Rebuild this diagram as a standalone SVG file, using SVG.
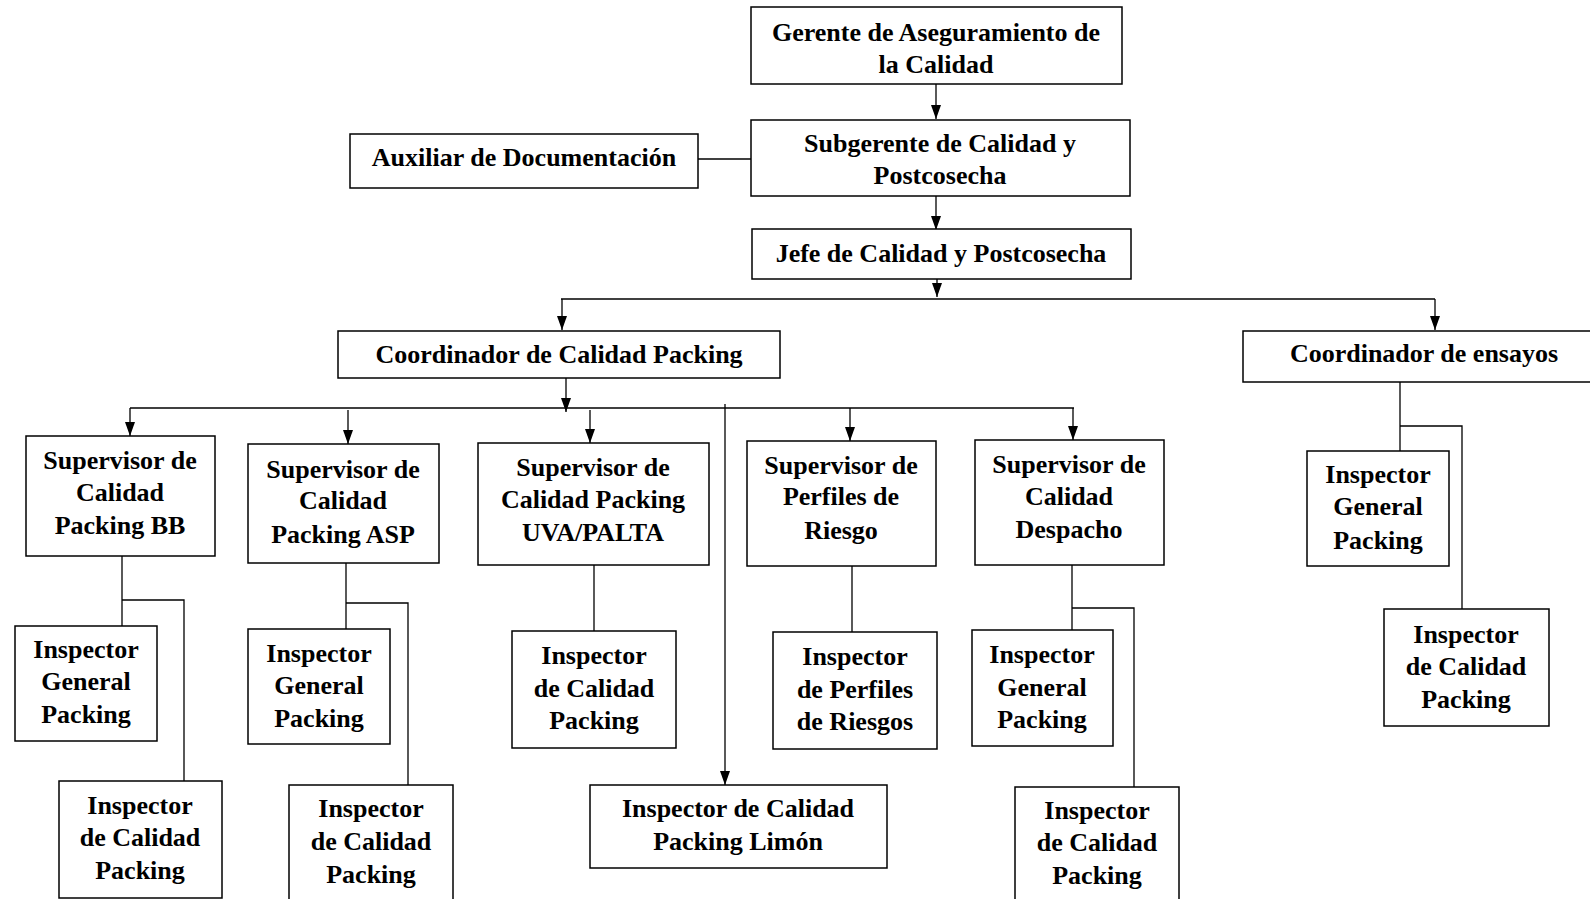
<svg xmlns="http://www.w3.org/2000/svg" width="1590" height="899" viewBox="0 0 1590 899">
<style>
.box{fill:#fff;stroke:#000;stroke-width:1.5}
.t{font-family:"Liberation Serif","Times New Roman",serif;font-weight:bold;font-size:26px;fill:#000;text-anchor:middle}
.c{fill:none;stroke:#000;stroke-width:1.3}
</style>
<defs>
<marker id="ah" markerUnits="userSpaceOnUse" markerWidth="12" markerHeight="16" refX="6" refY="15" orient="auto-start-reverse" viewBox="0 0 12 16">
<path d="M1,1 L11,1 L6,15 Z" fill="#000" transform="rotate(0)"/>
</marker>
<marker id="arr" markerUnits="userSpaceOnUse" markerWidth="16" markerHeight="12" refX="15" refY="6" orient="auto" viewBox="0 0 16 12">
<path d="M1,1 L15,6 L1,11 Z" fill="#000"/>
</marker>
</defs>
<rect width="1590" height="899" fill="#fff"/>
<g id="connectors">
<line class="c" x1="936" y1="84" x2="936" y2="119" marker-end="url(#arr)"/>
<line class="c" x1="698" y1="159" x2="751" y2="159"/>
<line class="c" x1="936" y1="196" x2="936" y2="230" marker-end="url(#arr)"/>
<line class="c" x1="937" y1="279" x2="937" y2="297" marker-end="url(#arr)"/>
<line class="c" x1="561" y1="299" x2="1435" y2="299"/>
<line class="c" x1="562" y1="299" x2="562" y2="330" marker-end="url(#arr)"/>
<line class="c" x1="1435" y1="299" x2="1435" y2="330" marker-end="url(#arr)"/>
<line class="c" x1="566" y1="378" x2="566" y2="412" marker-end="url(#arr)"/>
<line class="c" x1="130" y1="408" x2="1074" y2="408"/>
<line class="c" x1="130" y1="408" x2="130" y2="436" marker-end="url(#arr)"/>
<line class="c" x1="348" y1="410" x2="348" y2="444" marker-end="url(#arr)"/>
<line class="c" x1="590" y1="410" x2="590" y2="443" marker-end="url(#arr)"/>
<line class="c" x1="850" y1="408" x2="850" y2="441" marker-end="url(#arr)"/>
<line class="c" x1="1073" y1="408" x2="1073" y2="440" marker-end="url(#arr)"/>
<line class="c" x1="725" y1="404" x2="725" y2="785" marker-end="url(#arr)"/>
<polyline class="c" points="122,556 122,626"/>
<polyline class="c" points="122,600 184,600 184,781"/>
<polyline class="c" points="346,563 346,629"/>
<polyline class="c" points="346,603 408,603 408,785"/>
<polyline class="c" points="594,565 594,631"/>
<polyline class="c" points="852,566 852,632"/>
<polyline class="c" points="1072,565 1072,630"/>
<polyline class="c" points="1072,608 1134,608 1134,787"/>
<polyline class="c" points="1400,382 1400,451"/>
<polyline class="c" points="1400,426 1462,426 1462,609"/>
</g>
<g id="gerente"><rect class="box" x="751" y="7" width="371" height="77"/><text class="t" x="936" y="41">Gerente de Aseguramiento de</text><text class="t" x="936" y="73">la Calidad</text></g>
<g id="auxiliar"><rect class="box" x="350" y="134" width="348" height="54"/><text class="t" x="524" y="166">Auxiliar de Documentación</text></g>
<g id="subgerente"><rect class="box" x="751" y="120" width="379" height="76"/><text class="t" x="940" y="152">Subgerente de Calidad y</text><text class="t" x="940" y="184">Postcosecha</text></g>
<g id="jefe"><rect class="box" x="752" y="229" width="379" height="50"/><text class="t" x="941" y="262">Jefe de Calidad y Postcosecha</text></g>
<g id="coord-packing"><rect class="box" x="338" y="331" width="442" height="47"/><text class="t" x="559" y="363">Coordinador de Calidad Packing</text></g>
<g id="coord-ensayos"><rect class="box" x="1243" y="331" width="352" height="51"/><text class="t" x="1424" y="362">Coordinador de ensayos</text></g>
<g id="sup-bb"><rect class="box" x="26" y="436" width="189" height="120"/><text class="t" x="120" y="469">Supervisor de</text><text class="t" x="120" y="501">Calidad</text><text class="t" x="120" y="534">Packing BB</text></g>
<g id="sup-asp"><rect class="box" x="248" y="444" width="191" height="119"/><text class="t" x="343" y="478">Supervisor de</text><text class="t" x="343" y="509">Calidad</text><text class="t" x="343" y="543">Packing ASP</text></g>
<g id="sup-uva"><rect class="box" x="478" y="443" width="231" height="122"/><text class="t" x="593" y="476">Supervisor de</text><text class="t" x="593" y="508">Calidad Packing</text><text class="t" x="593" y="541">UVA/PALTA</text></g>
<g id="sup-perfiles"><rect class="box" x="747" y="441" width="189" height="125"/><text class="t" x="841" y="474">Supervisor de</text><text class="t" x="841" y="505">Perfiles de</text><text class="t" x="841" y="539">Riesgo</text></g>
<g id="sup-despacho"><rect class="box" x="975" y="440" width="189" height="125"/><text class="t" x="1069" y="473">Supervisor de</text><text class="t" x="1069" y="505">Calidad</text><text class="t" x="1069" y="538">Despacho</text></g>
<g id="insp-gen-ensayos"><rect class="box" x="1307" y="451" width="142" height="115"/><text class="t" x="1378" y="483">Inspector</text><text class="t" x="1378" y="515">General</text><text class="t" x="1378" y="549">Packing</text></g>
<g id="insp-cal-ensayos"><rect class="box" x="1384" y="609" width="165" height="117"/><text class="t" x="1466" y="643">Inspector</text><text class="t" x="1466" y="675">de Calidad</text><text class="t" x="1466" y="708">Packing</text></g>
<g id="insp-gen-bb"><rect class="box" x="15" y="626" width="142" height="115"/><text class="t" x="86" y="658">Inspector</text><text class="t" x="86" y="690">General</text><text class="t" x="86" y="723">Packing</text></g>
<g id="insp-cal-bb"><rect class="box" x="59" y="781" width="163" height="117"/><text class="t" x="140" y="814">Inspector</text><text class="t" x="140" y="846">de Calidad</text><text class="t" x="140" y="879">Packing</text></g>
<g id="insp-gen-asp"><rect class="box" x="248" y="629" width="142" height="115"/><text class="t" x="319" y="662">Inspector</text><text class="t" x="319" y="694">General</text><text class="t" x="319" y="727">Packing</text></g>
<g id="insp-cal-asp"><rect class="box" x="289" y="785" width="164" height="120"/><text class="t" x="371" y="817">Inspector</text><text class="t" x="371" y="850">de Calidad</text><text class="t" x="371" y="883">Packing</text></g>
<g id="insp-cal-uva"><rect class="box" x="512" y="631" width="164" height="117"/><text class="t" x="594" y="664">Inspector</text><text class="t" x="594" y="697">de Calidad</text><text class="t" x="594" y="729">Packing</text></g>
<g id="insp-limon"><rect class="box" x="590" y="785" width="297" height="83"/><text class="t" x="738" y="817">Inspector de Calidad</text><text class="t" x="738" y="850">Packing Limón</text></g>
<g id="insp-perfiles"><rect class="box" x="773" y="632" width="164" height="117"/><text class="t" x="855" y="665">Inspector</text><text class="t" x="855" y="698">de Perfiles</text><text class="t" x="855" y="730">de Riesgos</text></g>
<g id="insp-gen-despacho"><rect class="box" x="972" y="630" width="141" height="116"/><text class="t" x="1042" y="663">Inspector</text><text class="t" x="1042" y="696">General</text><text class="t" x="1042" y="728">Packing</text></g>
<g id="insp-cal-despacho"><rect class="box" x="1015" y="787" width="164" height="118"/><text class="t" x="1097" y="819">Inspector</text><text class="t" x="1097" y="851">de Calidad</text><text class="t" x="1097" y="884">Packing</text></g>
</svg>
